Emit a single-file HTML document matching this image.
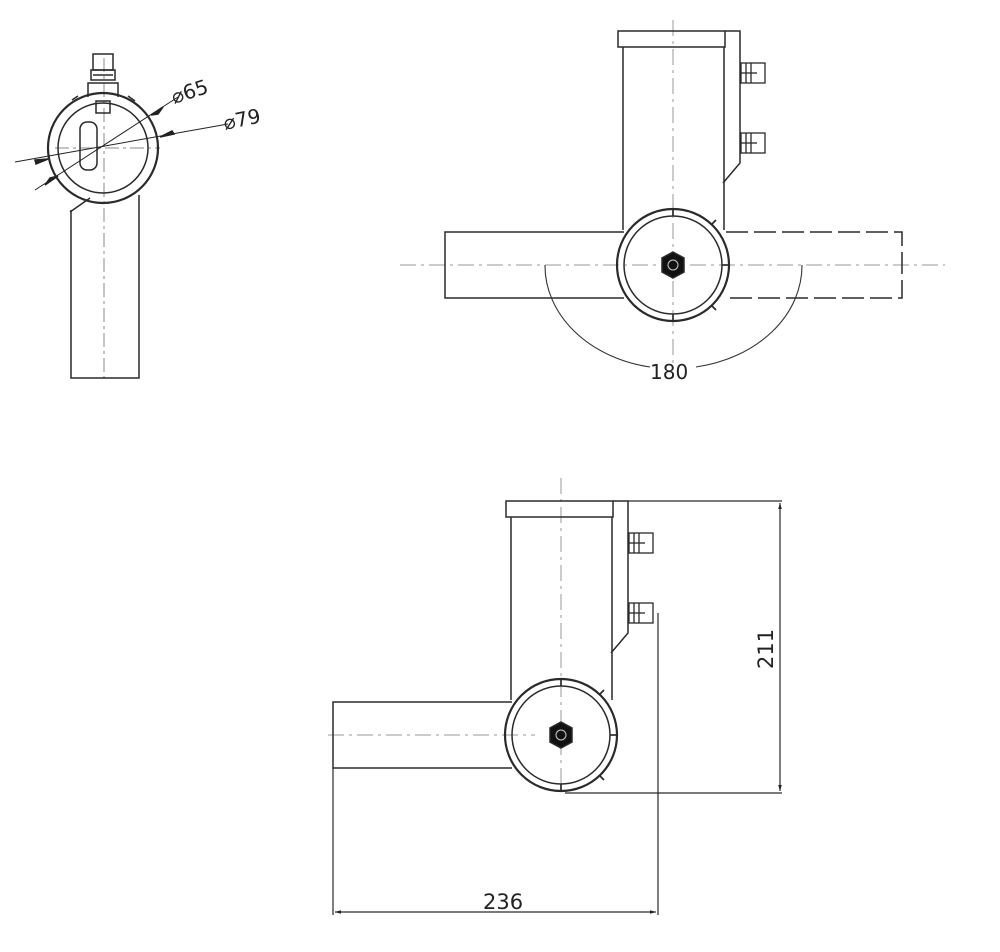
<!DOCTYPE html>
<html><head><meta charset="utf-8"><style>
html,body{margin:0;padding:0;background:#fff;}
svg{display:block;}
text{font-family:"DejaVu Sans","Liberation Sans",sans-serif;fill:#222;}
</style></head><body>
<svg width="1000" height="952" viewBox="0 0 1000 952" xmlns="http://www.w3.org/2000/svg">
<defs>
<marker id="ar" viewBox="0 0 10 10" refX="10" refY="5" markerWidth="12" markerHeight="6" orient="auto-start-reverse" markerUnits="userSpaceOnUse"><path d="M0,2 L10,5 L0,8 z" fill="#222"/></marker>
<g id="bracket" fill="none" stroke="#2a2a2a" stroke-width="1.5">
  <line x1="623" y1="47" x2="623" y2="230"/>
  <line x1="724" y1="47" x2="724" y2="230"/>
  <rect x="618" y="31" width="107" height="16"/>
  <polyline points="725,31 740,31 740,163 723,183"/>
  <g stroke-width="1.3">
    <rect x="741" y="63" width="24" height="20"/><line x1="746" y1="63" x2="746" y2="83"/><line x1="751" y1="63" x2="751" y2="83"/><line x1="741" y1="73" x2="757" y2="73"/>
    <rect x="741" y="133" width="24" height="20"/><line x1="746" y1="133" x2="746" y2="153"/><line x1="751" y1="133" x2="751" y2="153"/><line x1="741" y1="143" x2="757" y2="143"/>
  </g>
  <polyline points="624,232 445,232 445,298 624,298"/>
  <circle cx="673" cy="265" r="56" stroke-width="2.2"/>
  <circle cx="673" cy="265" r="49"/>
  <g stroke-width="1.7">
    <line x1="673" y1="209" x2="673" y2="216"/><line x1="673" y1="314" x2="673" y2="321"/>
    <line x1="722" y1="265" x2="729" y2="265"/>
    <line x1="711" y1="225" x2="716" y2="220"/><line x1="711" y1="305" x2="716" y2="310"/>
  </g>
  <polygon points="673,252 684,258 684,272 673,278 662,272 662,258" fill="#111"/>
  <circle cx="673" cy="265" r="5" stroke="#ccc" stroke-width="1"/>
</g>
</defs>

<g fill="none" stroke="#2a2a2a" stroke-width="1.5">
  <line x1="104" y1="58" x2="104" y2="382" stroke="#888" stroke-width="1" stroke-dasharray="14,4,3,4"/>
  <line x1="55" y1="148" x2="160" y2="148" stroke="#888" stroke-width="1" stroke-dasharray="14,4,3,4"/>
  <rect x="93" y="54" width="20" height="16"/>
  <rect x="91" y="70" width="24" height="10"/>
  <line x1="93" y1="75" x2="113" y2="75"/>
  <polyline points="88,97 88,83 118,83 118,97"/>
  <path d="M72,100 L78,96 M128,96 L135,101"/>
  <circle cx="103" cy="148" r="55" stroke-width="2.2"/>
  <circle cx="103" cy="148" r="45"/>
  <rect x="96" y="101" width="14" height="12"/>
  <rect x="80" y="122" width="17" height="48" rx="7"/>
  <path d="M70,212 L90,198"/>
  <polyline points="71,210 71,378 139,378 139,195"/>
  <line x1="35" y1="190" x2="178" y2="97" stroke="#222" stroke-width="1"/>
  <line x1="15" y1="162" x2="228" y2="124" stroke="#222" stroke-width="1"/>
  <path d="M58,176 L45,185 L50,178z M151,115 L163,107 L158,114z" fill="#222" stroke="#222"/>
  <path d="M35,160 L48,159 L36,164z M174,134 L160,137 L172,131z" fill="#222" stroke="#222"/>
</g>
<text x="174" y="104" font-size="20" transform="rotate(-18 174 104)">⌀65</text>
<text x="225" y="130" font-size="20" transform="rotate(-12 225 130)">⌀79</text>

<g stroke="#999" stroke-width="1" fill="none" stroke-dasharray="16,5,3,5">
  <line x1="673" y1="20" x2="673" y2="365"/>
  <line x1="400" y1="265" x2="945" y2="265"/>
</g>
<use href="#bracket"/>
<g fill="none" stroke="#2a2a2a" stroke-width="1.5" stroke-dasharray="22,6">
  <polyline points="726,232 902,232 902,298 726,298"/>
</g>
<path d="M545,265 A128,103 0 0 0 650,367 M696,367 A128,103 0 0 0 802,265" fill="none" stroke="#333" stroke-width="1.1"/>
<text x="650" y="379" font-size="20">180</text>

<g stroke="#999" stroke-width="1" fill="none" stroke-dasharray="16,5,3,5">
  <line x1="561" y1="478" x2="561" y2="790"/>
  <line x1="328" y1="735" x2="535" y2="735"/>
</g>
<use href="#bracket" transform="translate(-112,470)"/>
<g fill="none" stroke="#2a2a2a" stroke-width="1.2">
  <line x1="628" y1="501" x2="782" y2="501"/>
  <line x1="565" y1="793" x2="782" y2="793"/>
  <line x1="780" y1="503" x2="780" y2="791" marker-start="url(#ar)" marker-end="url(#ar)"/>
  <line x1="333" y1="768" x2="333" y2="915"/>
  <line x1="658" y1="613" x2="658" y2="915"/>
  <line x1="335" y1="912" x2="656" y2="912" marker-start="url(#ar)" marker-end="url(#ar)"/>
</g>
<text x="483" y="909" font-size="21">236</text>
<text x="773" y="669" font-size="21" transform="rotate(-90 773 669)">211</text>
</svg>
</body></html>
